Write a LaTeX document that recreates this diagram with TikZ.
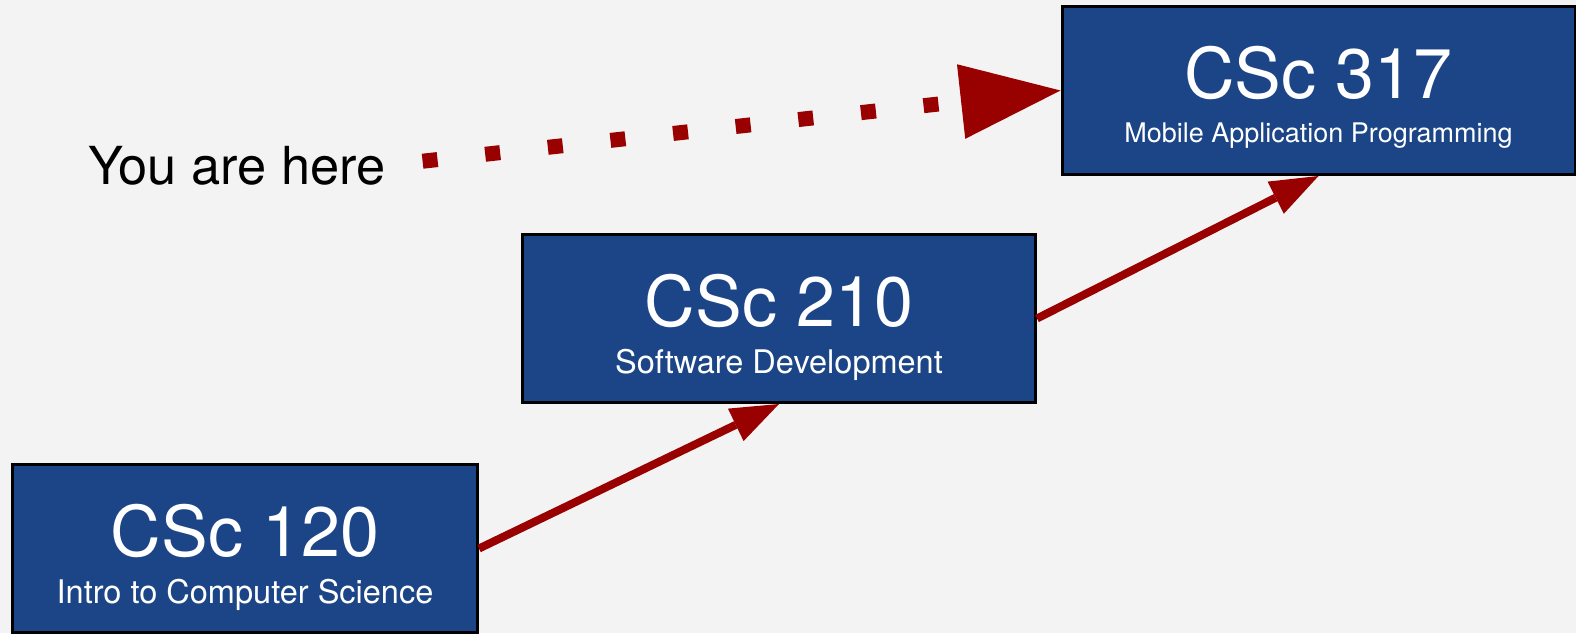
\documentclass[tikz,border=0pt]{standalone}
\usepackage{fontspec}
\setmainfont{TeX Gyre Heros}
\usetikzlibrary{arrows.meta}

\begin{document}
\begin{tikzpicture}[x=1pt, y=-1pt,
	course/.style={draw=black, line width=3pt, fill=coursebox, minimum height=168pt, inner sep=0pt},
	coursenum/.style={text=white, font=\fontsize{70}{70}\selectfont, anchor=base, inner sep=0pt},
	coursename/.style={text=white, font=\fontsize{32.5}{32.5}\selectfont, anchor=base, inner sep=0pt},
	prereq/.style={draw=arrowred, line width=8pt, -{Triangle[length=48pt, width=36pt, line width=0pt]}},
	herearrow/.style={draw=arrowred, line width=15pt, dash pattern=on 15pt off 48pt, shorten <=37pt,
		-{Triangle[length=100pt, width=75pt, line width=0pt]}}]
	\definecolor{brightgray}{RGB}{243, 243, 243}
	\definecolor{coursebox}{RGB}{28, 69, 135}
	\definecolor{arrowred}{RGB}{153, 0, 0}

	\fill[brightgray] (0,0) rectangle (1576,633);
	\useasboundingbox (0,0) rectangle (1576,633);

	% courses
	\node[course, minimum width=465pt] (c120) at (245,548.5) {};
	\node[coursenum] (c120num) at ([yshift=-7.5pt]c120.center) {CSc 120};
	\node[coursename] (c120name) at ([yshift=-54.5pt]c120.center) {Intro to Computer Science};

	\node[course, minimum width=513pt] (c210) at (779,318.5) {};
	\node[coursenum] (c210num) at ([yshift=-7.5pt]c210.center) {CSc 210};
	\node[coursename] (c210name) at ([yshift=-54.5pt]c210.center) {Software Development};

	\node[course, minimum width=513pt] (c317) at (1318.5,90.5) {};
	\node[coursenum] (c317num) at ([yshift=-7.5pt]c317.center) {CSc 317};
	\node[coursename, font=\fontsize{27}{27}\selectfont] (c317name) at ([yshift=-52pt]c317.center) {Mobile Application Programming};

	\node[anchor=base west, inner sep=0pt, font=\fontsize{52.4}{52.4}\selectfont] (here) at (88,184) {You are here};

	% arrows
	\draw[prereq] (c120.east) -- (c210.south);
	\draw[prereq] (c210.east) -- (c317.south);
	\draw[herearrow] (here.east) -- (c317.west);
\end{tikzpicture}
\end{document}
